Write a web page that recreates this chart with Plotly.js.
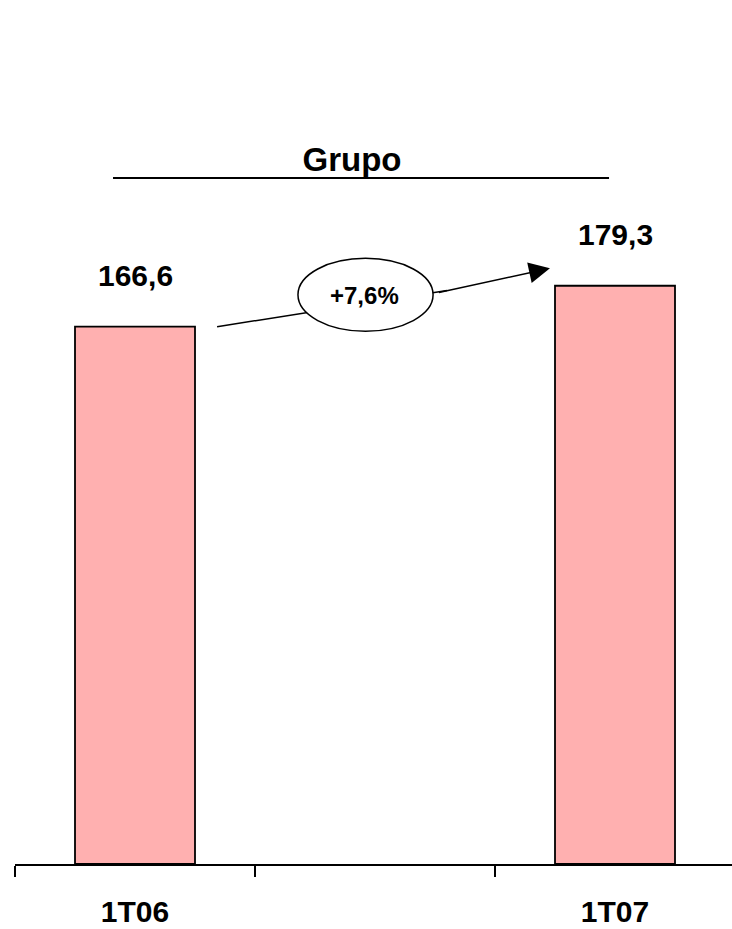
<!DOCTYPE html>
<html>
<head>
<meta charset="utf-8">
<script src="https://cdn.plot.ly/plotly-3.0.1.min.js"></script>
<style>html,body{margin:0;padding:0;background:#fff;}#chart{width:732px;height:929px;}</style>
</head>
<body>
<div id="chart"></div>
<script>
var categories = ["1T06", " ", "1T07"];
var values = [166.6, null, 179.3];
var growthLabel = "+7,6%";
var chartTitle = "Grupo";

var FONT = "Liberation Sans, Arial, sans-serif";
function fmt(v) { return v.toFixed(1).replace(".", ","); }

var trace = {
  type: "bar",
  x: categories,
  y: values,
  width: 0.5,
  marker: { color: "#FFB0B0", line: { color: "#000000", width: 1.8 } },
  hoverinfo: "skip"
};

var annotations = [];
categories.forEach(function (c, i) {
  if (values[i] == null) return;
  annotations.push({
    x: c, y: values[i], xref: "x", yref: "y",
    text: "<b>" + fmt(values[i]) + "</b>",
    showarrow: false, yanchor: "bottom", yshift: 33,
    font: { family: FONT, size: 30, color: "#000" }
  });
});

// arrow from first bar to second bar
var v0 = values[0], v1 = values[2];
annotations.push({
  x: 1.729, y: v1 + 5.4, xref: "x", yref: "y",
  ax: 1.26, ay: v1 - 2.2, axref: "x", ayref: "y",
  showarrow: true, arrowhead: 2, arrowsize: 2.8, arrowwidth: 1.5,
  arrowcolor: "#000", text: ""
});
annotations.push({
  x: 0.955, y: 176.3, xref: "x", yref: "y",
  text: "<b>" + growthLabel + "</b>", showarrow: false,
  font: { family: FONT, size: 24, color: "#000" }
});

var layout = {
  width: 732, height: 929,
  margin: { l: 15, r: 0, t: 219, b: 65 },
  paper_bgcolor: "#fff", plot_bgcolor: "#fff",
  showlegend: false,
  title: {
    text: "<b>" + chartTitle + "</b>",
    x: 352 / 732, xanchor: "center", xref: "container",
    y: 1 - 159 / 929, yanchor: "middle", yref: "container",
    font: { family: FONT, size: 33, color: "#000" }
  },
  xaxis: {
    type: "category",
    range: [-0.5, -0.5 + 717 / 240],
    tickson: "boundaries",
    ticks: "outside", ticklen: 11, tickwidth: 2, tickcolor: "#000",
    showline: true, linecolor: "#000", linewidth: 2,
    showgrid: false, zeroline: false,
    ticklabelstandoff: 20,
    tickfont: { family: FONT, size: 30, color: "#000", weight: "bold" },
    fixedrange: true
  },
  yaxis: {
    range: [0, 200], visible: false, showgrid: false, zeroline: false, fixedrange: true
  },
  shapes: [
    { type: "line", xref: "paper", yref: "paper", x0: 0.1367, x1: 0.8285, y0: 1.0636, y1: 1.0636,
      line: { color: "#000", width: 2 } },
    { type: "line", xref: "x", yref: "y", x0: 0.342, y0: v0, x1: 1.30, y1: v1 - 1.5,
      line: { color: "#000", width: 1.5 }, layer: "above" },
    { type: "circle", xref: "x", yref: "y", x0: 0.679, x1: 1.242, y0: 165.2, y1: 187.8,
      fillcolor: "#fff", line: { color: "#000", width: 1.5 }, layer: "above" }
  ],
  annotations: annotations
};

Plotly.newPlot("chart", [trace], layout, { displayModeBar: false, staticPlot: true });
</script>
</body>
</html>
